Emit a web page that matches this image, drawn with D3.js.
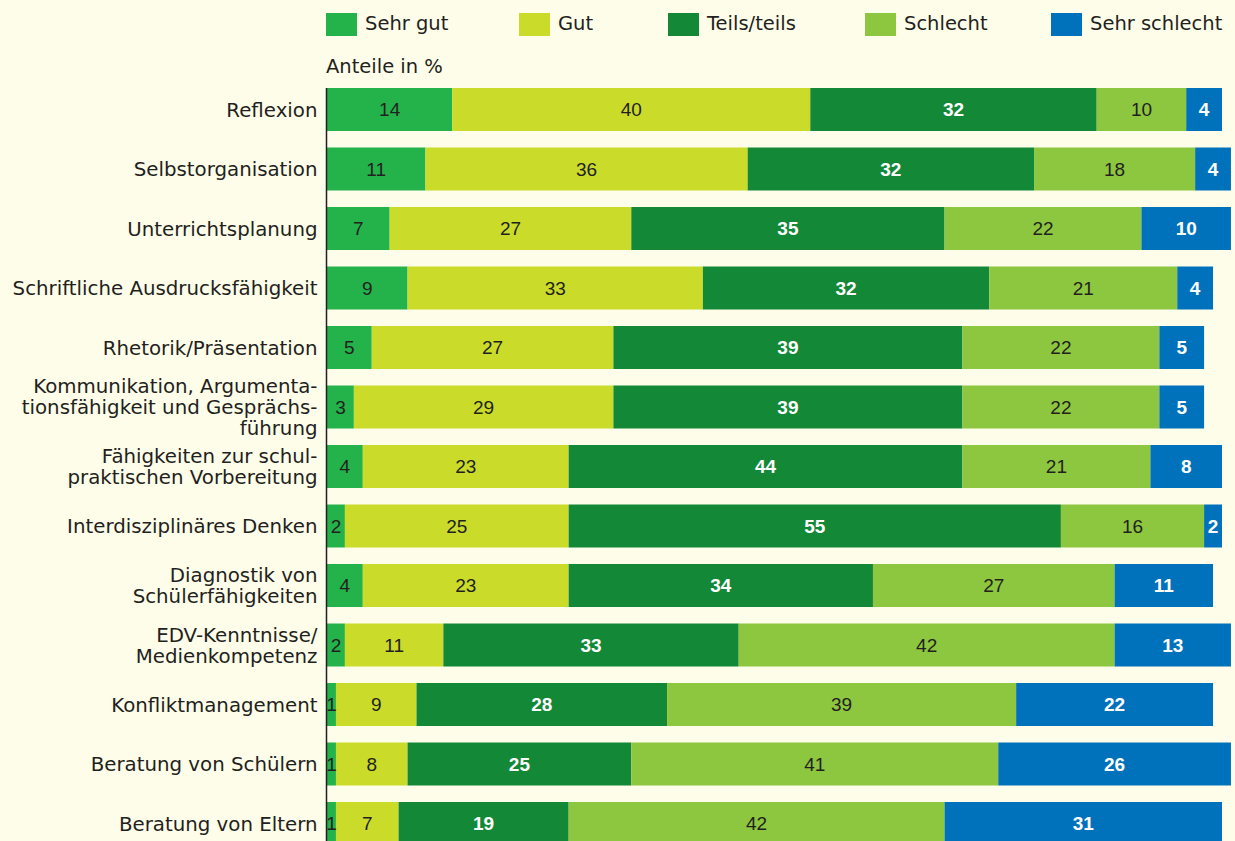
<!DOCTYPE html>
<html>
<head>
<meta charset="utf-8">
<script src="https://cdn.jsdelivr.net/npm/d3@7"></script>
<style>
  html, body { margin: 0; padding: 0; background: #fefde9; }
  svg { display: block; }
  text { font-family: "DejaVu Sans", "Liberation Sans", Arial, sans-serif; fill: #231f20; }
  text.num { font-family: "Liberation Sans", Arial, sans-serif; }
</style>
</head>
<body>
<svg id="chart" width="1235" height="841"></svg>
<script>
// Kompetenzen: Einschätzung in Anteilen (%)
const categories = [
  "Reflexion",
  "Selbstorganisation",
  "Unterrichtsplanung",
  "Schriftliche Ausdrucksfähigkeit",
  "Rhetorik/Präsentation",
  "Kommunikation, Argumenta-|tionsfähigkeit und Gesprächs-|führung",
  "Fähigkeiten zur schul-|praktischen Vorbereitung",
  "Interdisziplinäres Denken",
  "Diagnostik von|Schülerfähigkeiten",
  "EDV-Kenntnisse/|Medienkompetenz",
  "Konfliktmanagement",
  "Beratung von Schülern",
  "Beratung von Eltern"
];
const seriesNames = ["Sehr gut", "Gut", "Teils/teils", "Schlecht", "Sehr schlecht"];
const sehrGut      = [14, 11,  7,  9,  5,  3,  4,  2,  4,  2,  1,  1,  1];
const gut          = [40, 36, 27, 33, 27, 29, 23, 25, 23, 11,  9,  8,  7];
const teilsTeils   = [32, 32, 35, 32, 39, 39, 44, 55, 34, 33, 28, 25, 19];
const schlecht     = [10, 18, 22, 21, 22, 22, 21, 16, 27, 42, 39, 41, 42];
const sehrSchlecht = [ 4,  4, 10,  4,  5,  5,  8,  2, 11, 13, 22, 26, 31];
const seriesValues = [sehrGut, gut, teilsTeils, schlecht, sehrSchlecht];

const colors = ["#24b24b", "#cadb2a", "#138837", "#8dc63f", "#0071bb"];
const labelFill = ["#231f20", "#231f20", "#ffffff", "#231f20", "#ffffff"];
const labelWeight = ["normal", "normal", "bold", "normal", "bold"];

const svg = d3.select("#chart");

const table = categories.map((c, i) => {
  const row = { category: c };
  seriesNames.forEach((s, j) => { row[s] = seriesValues[j][i]; });
  return row;
});

const stacked = d3.stack().keys(seriesNames)(table);

const x = d3.scaleLinear().domain([0, 100]).range([327, 1222]);
const y = d3.scalePoint().domain(categories).range([109.5, 823.5]);
const barH = 43;

// Legend
const legendX = [326, 519, 668, 865, 1051];
const legend = svg.append("g");
seriesNames.forEach((s, j) => {
  const g = legend.append("g").attr("transform", `translate(${legendX[j]},13)`);
  g.append("rect").attr("width", 31).attr("height", 23).attr("fill", colors[j]);
  g.append("text").attr("x", 39).attr("y", 17).attr("font-size", 19.5).text(s);
});

svg.append("text").attr("x", 326).attr("y", 73).attr("font-size", 19.5).text("Anteile in %");

// Bars
const layers = svg.append("g").selectAll("g")
  .data(stacked).join("g")
  .attr("fill", (d, j) => colors[j]);

layers.selectAll("rect")
  .data(d => d.map(v => ({ v, cat: v.data.category })))
  .join("rect")
  .attr("x", d => x(d.v[0]))
  .attr("width", d => x(d.v[1]) - x(d.v[0]))
  .attr("y", d => y(d.cat) - barH / 2)
  .attr("height", barH);

// Value labels
stacked.forEach((layer, j) => {
  svg.append("g").selectAll("text")
    .data(layer).join("text")
    .attr("class", "num")
    .attr("x", d => (x(d[0]) + x(d[1])) / 2)
    .attr("y", d => y(d.data.category) + 6.5)
    .attr("text-anchor", "middle")
    .attr("font-size", 19)
    .attr("font-weight", labelWeight[j])
    .style("fill", labelFill[j])
    .text(d => d[1] - d[0]);
});

// Category axis
const axis = d3.axisLeft(y).tickSize(0).tickPadding(9).tickFormat("");
const axisG = svg.append("g").attr("transform", "translate(326.5,0)").call(axis);
axisG.select(".domain").remove();
axisG.append("line").attr("x1", 0).attr("x2", 0).attr("y1", 88).attr("y2", 841)
  .attr("stroke", "#231f20").attr("stroke-width", 1.5);

const lineH = 21;
axisG.selectAll(".tick").each(function(d) {
  const lines = d.split("|");
  const t = d3.select(this).append("text")
    .attr("x", -9)
    .attr("text-anchor", "end")
    .attr("font-size", 19.8);
  lines.forEach((ln, k) => {
    t.append("tspan")
      .attr("x", -9)
      .attr("y", (k - (lines.length - 1) / 2) * lineH + 6.5)
      .text(ln);
  });
});
</script>
</body>
</html>
